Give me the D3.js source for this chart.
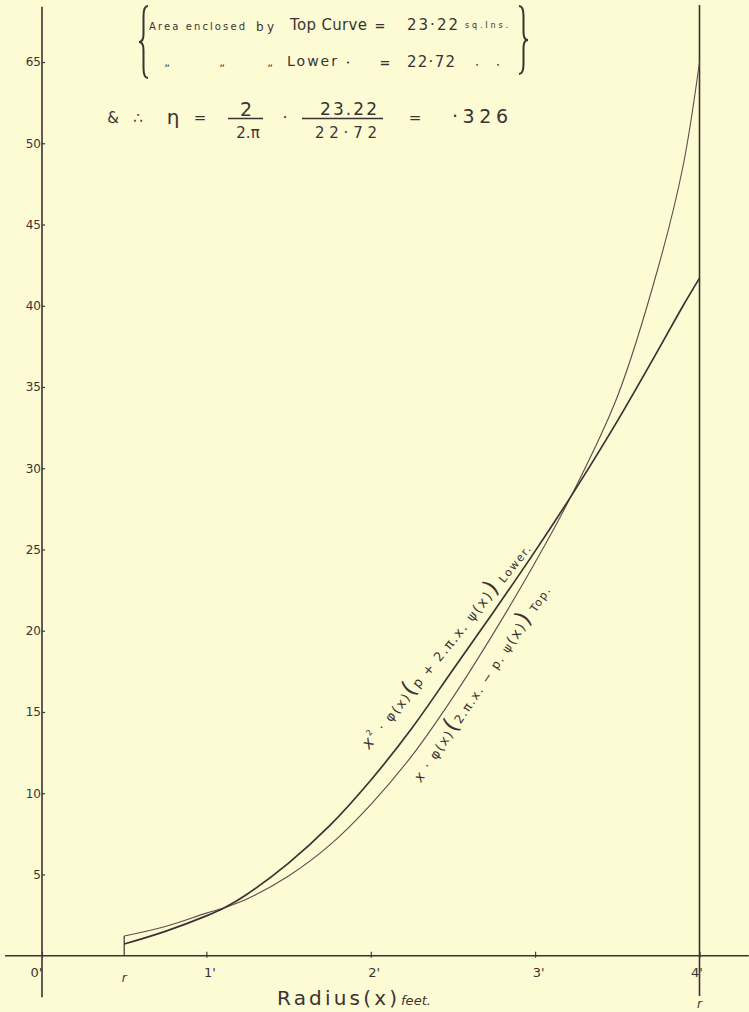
<!DOCTYPE html>
<html><head><meta charset="utf-8">
<script src="https://cdn.jsdelivr.net/npm/d3@7"></script>
<style>html,body{margin:0;padding:0;background:#fcfbd3;} svg{display:block}</style>
</head><body>
<svg id="chart" width="749" height="1012"></svg>
<script>
// ---- data ----
const radius     = [0.5, 0.75, 1.0, 1.11, 1.25, 1.5, 1.75, 2.0, 2.25, 2.5, 2.75, 3.0, 3.22, 3.5, 3.75, 3.9, 4.0];
const topCurve   = [1.21, 1.8, 2.62, 2.95, 3.5, 4.9, 6.8, 9.3, 12.3, 15.9, 19.9, 24.2, 28.3, 34.4, 42.4, 48.6, 55.0];
const lowerCurve = [0.72, 1.5, 2.45, 2.95, 3.8, 5.7, 8.0, 10.8, 14.0, 17.6, 21.2, 24.9, 28.3, 32.9, 37.3, 40.0, 41.7];
const yTickValues = [5, 10, 15, 20, 25, 30, 35, 40, 45, 50, 55];
const yTickLabels = ["5", "10", "15", "20", "25", "30", "35", "40", "45", "50", "65"];
const xTickValues = [0, 1, 2, 3, 4];
const xTickLabels = ["0'", "1'", "2'", "3'", "4'"];
const innerRadius = 0.5, outerRadius = 4;
const areaTop = "23·22", areaLower = "22·72";
const etaNum2 = "23.22", etaDen2 = "22·72", etaResult = "·326";

const ink = "#3b3333", inkLight = "#5a4f4f";
const font = "'DejaVu Sans', sans-serif";
const svg = d3.select("#chart");
svg.append("rect").attr("width", 749).attr("height", 1012).attr("fill", "#fcfbd3");

const x = d3.scaleLinear().domain([0, 4]).range([42, 699.5]);
const y = d3.scaleLinear().domain([0, 55]).range([955.7, 62]);

// axes lines
svg.append("line").attr("x1", x(0)).attr("x2", x(0)).attr("y1", y(58.4)).attr("y2", y(-2.55))
  .attr("stroke", ink).attr("stroke-width", 1.6);
svg.append("line").attr("x1", x(-0.225)).attr("x2", x(4.3)).attr("y1", y(0)).attr("y2", y(0))
  .attr("stroke", ink).attr("stroke-width", 1.6);
svg.append("line").attr("x1", x(outerRadius)).attr("x2", x(outerRadius)).attr("y1", 5).attr("y2", 996)
  .attr("stroke", ink).attr("stroke-width", 1.6);

// y axis ticks/labels
const yAxis = d3.axisLeft(y).tickValues(yTickValues).tickFormat((d, i) => yTickLabels[i])
  .tickSizeInner(-3).tickSizeOuter(0).tickPadding(1);
const gy = svg.append("g").attr("transform", `translate(${x(0)},0)`).call(yAxis);
gy.select(".domain").remove();
gy.selectAll("line").attr("stroke", ink).attr("stroke-width", 1.2);
gy.selectAll("text").attr("font-family", font).attr("font-size", 12).attr("fill", ink);

// x axis ticks/labels
const xAxis = d3.axisBottom(x).tickValues(xTickValues).tickFormat((d, i) => xTickLabels[i])
  .tickSizeInner(-4).tickSizeOuter(0).tickPadding(12);
const gx = svg.append("g").attr("transform", `translate(0,${y(0)})`).call(xAxis);
gx.select(".domain").remove();
gx.selectAll("line").attr("stroke", ink).attr("stroke-width", 1.1).attr("y2", -4).attr("y1", 2);
gx.selectAll("text").attr("font-family", font).attr("font-size", 13).attr("fill", ink)
  .attr("dx", d => d === 0 ? -6 : (d === 4 ? -3 : 3));

// r markers
svg.append("text").attr("x", x(innerRadius)).attr("y", 982).attr("text-anchor", "middle")
  .attr("font-family", font).attr("font-size", 12).attr("font-style", "italic").attr("fill", ink).text("r");
svg.append("text").attr("x", x(outerRadius)).attr("y", 1008).attr("text-anchor", "middle")
  .attr("font-family", font).attr("font-size", 12).attr("font-style", "italic").attr("fill", ink).text("r");

// vertical at inner radius
svg.append("line").attr("x1", x(innerRadius)).attr("x2", x(innerRadius))
  .attr("y1", y(0)).attr("y2", y(topCurve[0])).attr("stroke", ink).attr("stroke-width", 1.2);

// curves
const line = d3.line().x(d => x(d[0])).y(d => y(d[1])).curve(d3.curveCatmullRom.alpha(0.5));
svg.append("path").datum(radius.map((r, i) => [r, topCurve[i]])).attr("d", line)
  .attr("fill", "none").attr("stroke", inkLight).attr("stroke-width", 1.1);
svg.append("path").datum(radius.map((r, i) => [r, lowerCurve[i]])).attr("d", line)
  .attr("fill", "none").attr("stroke", ink).attr("stroke-width", 1.7);

// x axis title
const t1 = svg.append("text").attr("font-family", font).attr("fill", ink);
t1.append("tspan").attr("x", 277).attr("y", 1005).attr("font-size", 20).attr("textLength", 120)
  .attr("lengthAdjust", "spacing").text("Radius(x)");
t1.append("tspan").attr("x", 401).attr("y", 1005).attr("font-size", 13).attr("font-style", "italic")
  .attr("textLength", 30).attr("lengthAdjust", "spacing").text("feet.");

// braces
function brace(x0, y0, y1, dir) {
  const w = 9 * dir, m = (y0 + y1) / 2;
  const xa = x0 + w, xb = x0 + w / 2;
  return `M${xa},${y0} Q${xb},${y0} ${xb},${y0 + 10} L${xb},${m - 8} Q${xb},${m} ${x0},${m}` +
         ` Q${xb},${m} ${xb},${m + 8} L${xb},${y1 - 10} Q${xb},${y1} ${xa},${y1}`;
}
svg.append("path").attr("d", brace(139, 6, 78, 1)).attr("fill", "none").attr("stroke", ink).attr("stroke-width", 2);
svg.append("path").attr("d", brace(528, 6, 74, -1)).attr("fill", "none").attr("stroke", ink).attr("stroke-width", 2);

function txt(s, xx, yy, size, opts = {}) {
  const t = svg.append("text").attr("x", xx).attr("y", yy).attr("font-family", font)
    .attr("font-size", size).attr("fill", ink).text(s);
  if (opts.anchor) t.attr("text-anchor", opts.anchor);
  if (opts.len) t.attr("textLength", opts.len).attr("lengthAdjust", "spacing");
  if (opts.italic) t.attr("font-style", "italic");
  if (opts.weight) t.attr("font-weight", opts.weight);
  return t;
}
// line 1
txt("Area enclosed", 149, 30, 10, {len: 96});
txt("by", 256, 31, 12, {len: 18});
txt("Top Curve", 290, 30, 15, {len: 77});
txt("=", 380, 30, 13, {anchor: "middle", weight: "bold"});
txt(areaTop, 407, 30, 15, {len: 51});
txt("sq.Ins.", 465, 28, 8, {len: 43});
// line 2
txt("„", 167, 66, 11, {anchor: "middle"});
txt("„", 222, 66, 11, {anchor: "middle"});
txt("„", 270, 66, 11, {anchor: "middle"});
txt("Lower", 287, 66, 14, {len: 50});
txt("•", 348, 65, 7, {anchor: "middle"});
txt("=", 385, 67, 13, {anchor: "middle", weight: "bold"});
txt(areaLower, 407, 67, 15, {len: 48});
txt("•", 477, 67, 6, {anchor: "middle"});
txt("•", 498, 67, 6, {anchor: "middle"});
// formula line
txt("&", 113, 123, 15, {anchor: "middle"});
txt("∴", 138, 123, 15, {anchor: "middle"});
txt("η", 173, 124, 20, {anchor: "middle"});
txt("=", 200, 123, 15, {anchor: "middle"});
txt("2", 246, 116, 19, {anchor: "middle"});
svg.append("line").attr("x1", 228).attr("x2", 263).attr("y1", 118.5).attr("y2", 118.5).attr("stroke", ink).attr("stroke-width", 1.4);
txt("2.π", 248, 138, 15, {anchor: "middle"});
txt("·", 285, 123, 16, {anchor: "middle"});
txt(etaNum2, 320, 115, 17, {len: 57});
svg.append("line").attr("x1", 302).attr("x2", 383).attr("y1", 118.5).attr("y2", 118.5).attr("stroke", ink).attr("stroke-width", 1.4);
txt(etaDen2, 315, 138, 15, {len: 62});
txt("=", 415, 123, 15, {anchor: "middle"});
txt(etaResult, 452, 123, 19, {len: 56});

// curve labels
function curveLabel(px, py, angle, parts, len) {
  const g = svg.append("g").attr("transform", `translate(${px},${py}) rotate(${angle})`);
  const t = g.append("text").attr("font-family", font).attr("fill", ink)
    .attr("textLength", len).attr("lengthAdjust", "spacing");
  parts.forEach(p => {
    const s = t.append("tspan").attr("font-size", p[1]).text(p[0]);
    if (p[2]) s.attr("font-style", "italic");
    if (p[3]) s.attr("dy", p[3]);
  });
}
curveLabel(369, 750, -51, [
  ["x", 16, true], ["2", 8, false, -8], [" · φ(x)", 13, false, 8], ["(", 23], ["p + 2.π.x. ψ", 13], ["(x)", 14], [")", 23], [" Lower.", 11]
], 258);
curveLabel(421, 783, -56, [
  ["x", 14, true], [" · φ(x)", 13], ["(", 23], ["2.π.x. − p. ψ", 12], ["(x)", 14], [")", 23], [" Top.", 11]
], 232);
</script>
</body></html>
